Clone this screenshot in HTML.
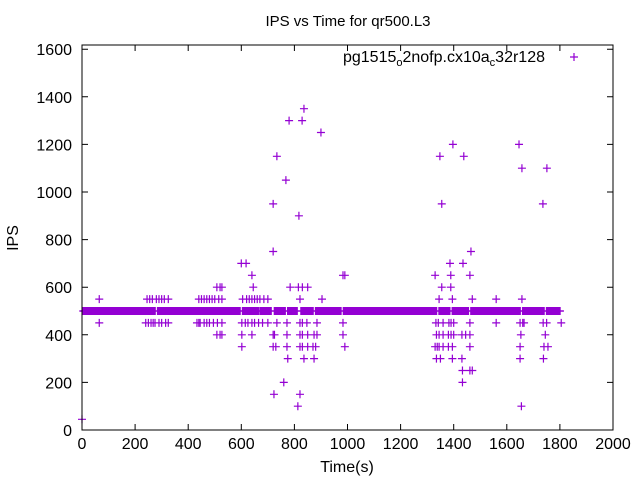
<!DOCTYPE html>
<html><head><meta charset="utf-8"><style>
body{margin:0;background:#fff}
svg{display:block;font-family:"Liberation Sans",sans-serif}
</style></head><body>
<svg id="chart" width="640" height="480" viewBox="0 0 640 480" xmlns="http://www.w3.org/2000/svg">
<text x="348" y="26" font-size="15" text-anchor="middle">IPS vs Time for qr500.L3</text>
<text x="18" y="238" font-size="16" text-anchor="middle" transform="rotate(-90 18 238)">IPS</text>
<text x="347" y="472" font-size="16" text-anchor="middle">Time(s)</text>
<g id="axes"></g>
<g id="points"></g>
<rect x="82" y="45" width="531" height="385" fill="none" stroke="#000" stroke-width="1"/>
<g>
<text x="545" y="62" font-size="16" text-anchor="end">pg1515<tspan font-size="11" dy="4">o</tspan><tspan dy="-4">2nofp.cx10a</tspan><tspan font-size="11" dy="4">c</tspan><tspan dy="-4">32r128</tspan></text>
<path d="M570 57h8M574 53v8" stroke="#9400d3" stroke-width="1.2"/>
</g>
</svg>
<script>
const xTicks=[0,200,400,600,800,1000,1200,1400,1600,1800,2000];
const yTicks=[0,200,400,600,800,1000,1200,1400,1600];
const baseTimes=[5,10,15,20,25,30,35,40,45,50,55,60,65,70,75,80,85,90,95,100,105,110,115,120,125,130,135,140,145,150,155,160,165,170,175,180,185,190,195,200,205,210,215,220,225,230,235,240,245,250,255,260,265,270,275,285,290,295,300,305,310,315,320,325,330,335,340,345,350,355,360,365,370,375,380,385,390,395,400,405,410,415,420,425,430,435,440,445,450,455,460,465,470,475,480,485,490,495,500,505,510,515,520,525,530,535,540,545,550,555,560,565,570,575,580,585,590,595,605,610,615,620,625,630,635,640,645,650,655,660,665,672,677,682,687,692,697,702,707,712,725,730,735,740,745,750,755,760,765,775,780,785,790,795,800,805,810,825,830,835,840,845,850,855,860,865,870,880,885,890,895,900,905,910,915,920,925,930,935,940,945,950,955,960,965,970,975,985,990,995,1000,1005,1010,1015,1020,1025,1030,1035,1040,1045,1050,1055,1060,1065,1070,1075,1080,1085,1090,1095,1100,1105,1110,1115,1120,1125,1130,1135,1140,1145,1150,1155,1160,1165,1170,1175,1180,1185,1190,1195,1200,1205,1210,1215,1220,1225,1230,1235,1240,1245,1250,1255,1260,1265,1270,1275,1280,1285,1290,1295,1300,1305,1310,1315,1320,1325,1330,1335,1345,1350,1355,1360,1365,1370,1375,1380,1385,1395,1400,1405,1410,1415,1420,1425,1430,1435,1440,1445,1450,1455,1465,1470,1475,1480,1485,1490,1495,1500,1505,1510,1515,1520,1525,1530,1535,1540,1545,1550,1555,1560,1565,1570,1575,1580,1585,1590,1595,1600,1605,1610,1615,1620,1625,1630,1635,1640,1645,1650,1660,1665,1670,1675,1680,1685,1690,1695,1700,1705,1710,1715,1720,1725,1730,1735,1740,1750,1755,1760,1765,1770,1775,1780,1785,1790,1795,1800];
const outTimes=[0,65,245,255,265,280,290,300,310,325,440,450,460,470,480,490,500,515,527,605,620,630,640,650,660,670,685,700,821,904,
65,240,250,260,268,275,290,300,315,325,433,440,445,460,470,480,495,510,527,602,615,625,640,650,665,680,700,734,772,821,830,847,885,983,
508,520,527,602,640,720,725,772,821,830,850,874,885,983,
602,720,730,772,821,830,850,870,880,990,
775,836,874,760,723,821,813,
508,520,527,645,784,815,830,850,983,990,
600,618,640,720,720,734,768,780,829,836,817,900,
1330,1389,1461,1355,1389,1345,1395,1470,1560,1657,
1333,1342,1360,1382,1390,1400,1461,1560,1650,1660,1665,1737,1750,1805,
1335,1345,1360,1380,1390,1400,1431,1445,1461,1653,1745,
1330,1338,1345,1360,1380,1395,1461,1650,1740,1755,
1335,1350,1395,1431,1650,1738,
1433,1461,1470,1433,1655,
1348,1355,1397,1438,1386,1435,1465,1646,1657,1751,1736];
const outValues=[45,550,550,550,550,550,550,550,550,550,550,550,550,550,550,550,550,550,550,550,550,550,550,550,550,550,550,550,550,550,
450,450,450,450,450,450,450,450,450,450,450,450,450,450,450,450,450,450,450,450,450,450,450,450,450,450,450,450,450,450,450,450,450,450,
400,400,400,400,400,400,400,400,400,400,400,400,400,400,
350,350,350,350,350,350,350,350,350,350,
300,300,300,200,150,150,100,
600,600,600,600,600,600,600,600,650,650,
700,700,650,750,950,1150,1050,1300,1300,1350,900,1250,
650,650,650,600,600,550,550,550,550,550,
450,450,450,450,450,450,450,450,450,450,450,450,450,450,
400,400,400,400,400,400,400,400,400,400,400,
350,350,350,350,350,350,350,350,350,350,
300,300,300,300,300,300,
250,250,250,200,100,
1150,950,1200,1150,700,700,750,1200,1100,1100,950];
const X=t=>82+t*531/2000;
const Y=v=>430-v*0.238;
const NS="http://www.w3.org/2000/svg";
const axes=document.getElementById('axes');
const pts=document.getElementById('points');
function mk(tag,attrs,parent){const e=document.createElementNS(NS,tag);for(const k in attrs)e.setAttribute(k,attrs[k]);parent.appendChild(e);return e;}
xTicks.forEach(t=>{
  const p=mk('path',{d:`M${X(t)} 430v-6M${X(t)} 45v6`,stroke:'#000'},axes);
  
  
  const l=mk('text',{x:X(t),y:449,'font-size':16,'text-anchor':'middle'},axes);
  l.textContent=t;
  
  
});
yTicks.forEach(v=>{
  const p=mk('path',{d:`M82 ${Y(v)}h6M613 ${Y(v)}h-6`,stroke:'#000'},axes);
  
  
  const l=mk('text',{x:72,y:Y(v)+6,'font-size':16,'text-anchor':'end'},axes);
  l.textContent=v;
  
  
});
let d='';
baseTimes.forEach(t=>{d+=`M${X(t)-4} ${Y(500)}h8M${X(t)} ${Y(500)-4}v8`;});
const base=mk('path',{d:d,stroke:'#9400d3','stroke-width':1.6,fill:'none'},pts);


let d2='';
outTimes.forEach((t,i)=>{d2+=`M${X(t)-4} ${Y(outValues[i])}h8M${X(t)} ${Y(outValues[i])-4}v8`;});
const path=mk('path',{d:d2,stroke:'#9400d3','stroke-width':1.2,fill:'none'},pts);


</script>
</body></html>
